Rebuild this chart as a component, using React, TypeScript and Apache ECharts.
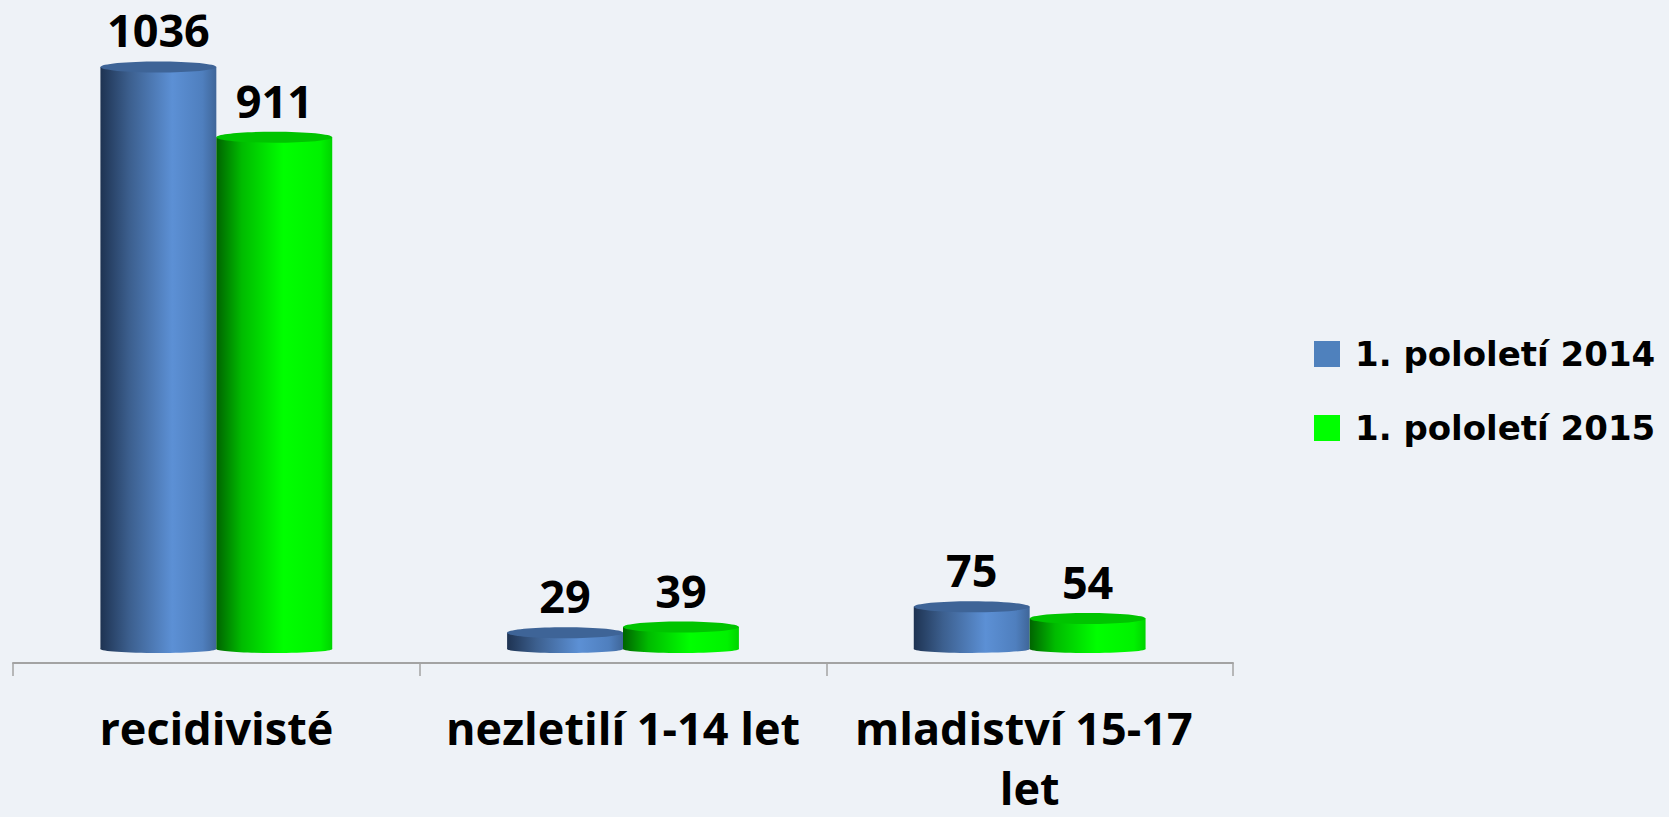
import React, { useEffect, useRef } from "react";
import * as echarts from "echarts";

const categories = ["recidivisté", "nezletilí 1-14 let", "mladiství 15-17 let"];
const seriesNames = ["1. pololetí 2014", "1. pololetí 2015"];
const values2014 = [1036, 29, 75];
const values2015 = [911, 39, 54];

const blueBody = [
  { offset: 0, color: "#1e3352" },
  { offset: 0.25, color: "#3c5f8e" },
  { offset: 0.62, color: "#5c90d5" },
  { offset: 0.88, color: "#4f7fbe" },
  { offset: 1, color: "#3f6699" },
];
const greenBody = [
  { offset: 0, color: "#006400" },
  { offset: 0.22, color: "#00bb00" },
  { offset: 0.58, color: "#00ff00" },
  { offset: 0.9, color: "#00f200" },
  { offset: 1, color: "#00d400" },
];

function makeRender(offset: number, body: any[], topColor: string) {
  return (params: any, api: any) => {
    const cat = api.value(0);
    const v = api.value(1);
    const base = api.coord([cat, 0]);
    const top = api.coord([cat, v]);
    const catW = api.size([1, 0])[0];
    const bw = catW * 0.285;
    const cx = base[0] + offset * bw;
    const grad = new echarts.graphic.LinearGradient(0, 0, 1, 0, body);
    const ryTop = 5.5;
    const ryBot = 4;
    return {
      type: "group",
      children: [
        {
          type: "ellipse",
          shape: { cx, cy: base[1], rx: bw / 2, ry: ryBot },
          style: { fill: grad },
        },
        {
          type: "rect",
          shape: { x: cx - bw / 2, y: top[1], width: bw, height: base[1] - top[1] },
          style: { fill: grad },
        },
        {
          type: "ellipse",
          shape: { cx, cy: top[1], rx: bw / 2, ry: ryTop },
          style: { fill: topColor },
        },
        {
          type: "text",
          style: {
            x: cx,
            y: top[1] - ryTop - 9,
            text: String(v),
            textAlign: "center",
            textVerticalAlign: "bottom",
            fontFamily: "Open Sans",
            fontWeight: "bold",
            fontSize: 45,
            fill: "#000000",
          },
        },
      ],
    };
  };
}

export default function App() {
  const ref = useRef<HTMLDivElement>(null);
  useEffect(() => {
    if (!ref.current) return;
    const chart = echarts.init(ref.current, null, { renderer: "svg" });
    chart.setOption({
      animation: false,
      backgroundColor: "#eef2f7",
      grid: { left: 13, right: 436, top: 31, bottom: 154, outerBoundsMode: "none", containLabel: false },
      legend: {
        orient: "vertical",
        left: 1309,
        top: 331,
        icon: "rect",
        itemWidth: 26,
        itemHeight: 26,
        itemGap: 38,
        data: seriesNames,
        textStyle: {
          fontFamily: "DejaVu Sans",
          fontWeight: "bold",
          fontSize: 34,
          lineHeight: 36,
          color: "#000",
          padding: [0, 0, 0, 10],
        },
      },
      xAxis: {
        type: "category",
        data: categories,
        boundaryGap: true,
        axisLine: { onZero: false, lineStyle: { color: "#a3a3a3", width: 2 } },
        axisTick: { show: true, length: 13, lineStyle: { color: "#a3a3a3", width: 1.5 } },
        axisLabel: {
          interval: 0,
          margin: 34,
          fontFamily: "Open Sans",
          fontWeight: "bold",
          fontSize: 45,
          lineHeight: 60,
          color: "#000",
          width: 395,
          overflow: "break",
        },
      },
      yAxis: {
        type: "value",
        min: -25,
        max: 1100,
        show: false,
        splitLine: { show: false },
      },
      series: [
        {
          name: seriesNames[0],
          type: "custom",
          itemStyle: { color: "#4f81bd" },
          encode: { x: 0, y: 1 },
          data: values2014.map((v, i) => [i, v]),
          renderItem: makeRender(-0.5, blueBody, "#3e6497"),
        },
        {
          name: seriesNames[1],
          type: "custom",
          itemStyle: { color: "#00ff00" },
          encode: { x: 0, y: 1 },
          data: values2015.map((v, i) => [i, v]),
          renderItem: makeRender(0.5, greenBody, "#00c400"),
        },
      ],
    });
    return () => chart.dispose();
  }, []);
  return (
    <div
      ref={ref}
      style={{ position: "absolute", left: 0, top: 0, width: 1669, height: 817 }}
    />
  );
}
